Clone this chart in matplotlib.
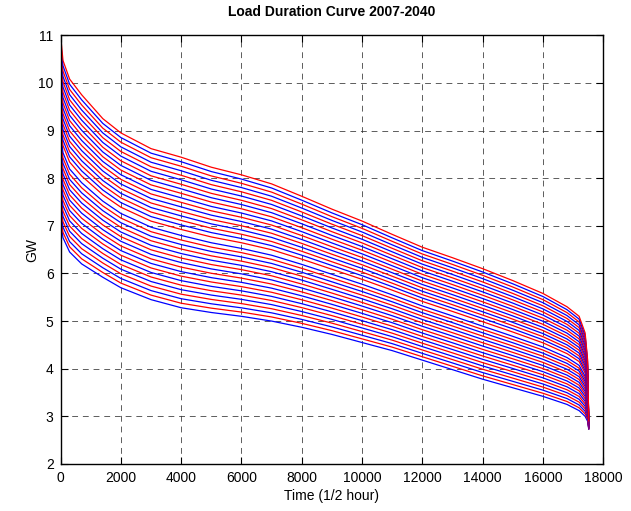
import matplotlib
matplotlib.use('Agg')
import matplotlib.pyplot as plt

plt.rcParams['font.family'] = ['Liberation Sans', 'DejaVu Sans']

# years shown
years = list(range(2007, 2041))

time_pts = [0, 80, 300, 700, 1400, 2000, 3000, 4000, 5000, 6000, 7000, 8000, 9000,
            10000, 11000, 12000, 13000, 14000, 15000, 16000, 16800, 17200, 17400,
            17480, 17520]

# lowest curve (2007), GW
load_2007 = [7.1, 6.75, 6.45, 6.2, 5.92, 5.7, 5.45, 5.28, 5.18, 5.1, 5.0, 4.87, 4.72,
             4.55, 4.38, 4.18, 3.98, 3.78, 3.6, 3.42, 3.25, 3.12, 3.0, 2.9, 2.73]

# highest curve (2040), GW
load_2040 = [11.0, 10.47, 10.08, 9.75, 9.25, 8.95, 8.62, 8.44, 8.23, 8.07, 7.88, 7.62, 7.35,
             7.1, 6.82, 6.55, 6.33, 6.1, 5.85, 5.58, 5.3, 5.1, 4.75, 4.2, 2.9]

# where each year sits between the 2007 and 2040 curves
year_pos = [0.0, 0.03, 0.06, 0.09, 0.12, 0.15, 0.18, 0.21, 0.24, 0.27, 0.30, 0.33,
            0.36, 0.39, 0.42, 0.45, 0.48, 0.52, 0.55, 0.58, 0.61, 0.64, 0.67, 0.70,
            0.73, 0.76, 0.79, 0.82, 0.85, 0.88, 0.91, 0.94, 0.97, 1.0]

fig = plt.figure(figsize=(6.31, 5.11), dpi=100)
ax = fig.add_subplot(111)
fig.subplots_adjust(left=0.096, right=0.956, bottom=0.092, top=0.931)

for k, yr in enumerate(years):
    w = year_pos[k]
    curve = [lo + w * (hi - lo) for lo, hi in zip(load_2007, load_2040)]
    if (len(years) - 1 - k) % 2 == 0:
        col = 'red'
    else:
        col = 'blue'
    ax.plot(time_pts, curve, color=col, linewidth=0.9)

ax.set_xlim(0, 18000)
ax.set_ylim(2, 11)
ax.set_xticks(range(0, 18001, 2000))
ax.set_yticks(range(2, 12))
ax.grid(True, linestyle=(0, (6, 5)), color='#333333', linewidth=0.7, alpha=0.8)
ax.tick_params(direction='in', top=True, right=True, labelsize=10, length=5, pad=5)
for s in ax.spines.values():
    s.set_linewidth(1.0)

ax.set_title('Load Duration Curve 2007-2040', fontsize=10, fontweight='bold', pad=14)
ax.set_xlabel('Time (1/2 hour)', fontsize=10, labelpad=3)
ax.set_ylabel('GW', fontsize=10, labelpad=-1)

plt.savefig('out.png', dpi=100)
